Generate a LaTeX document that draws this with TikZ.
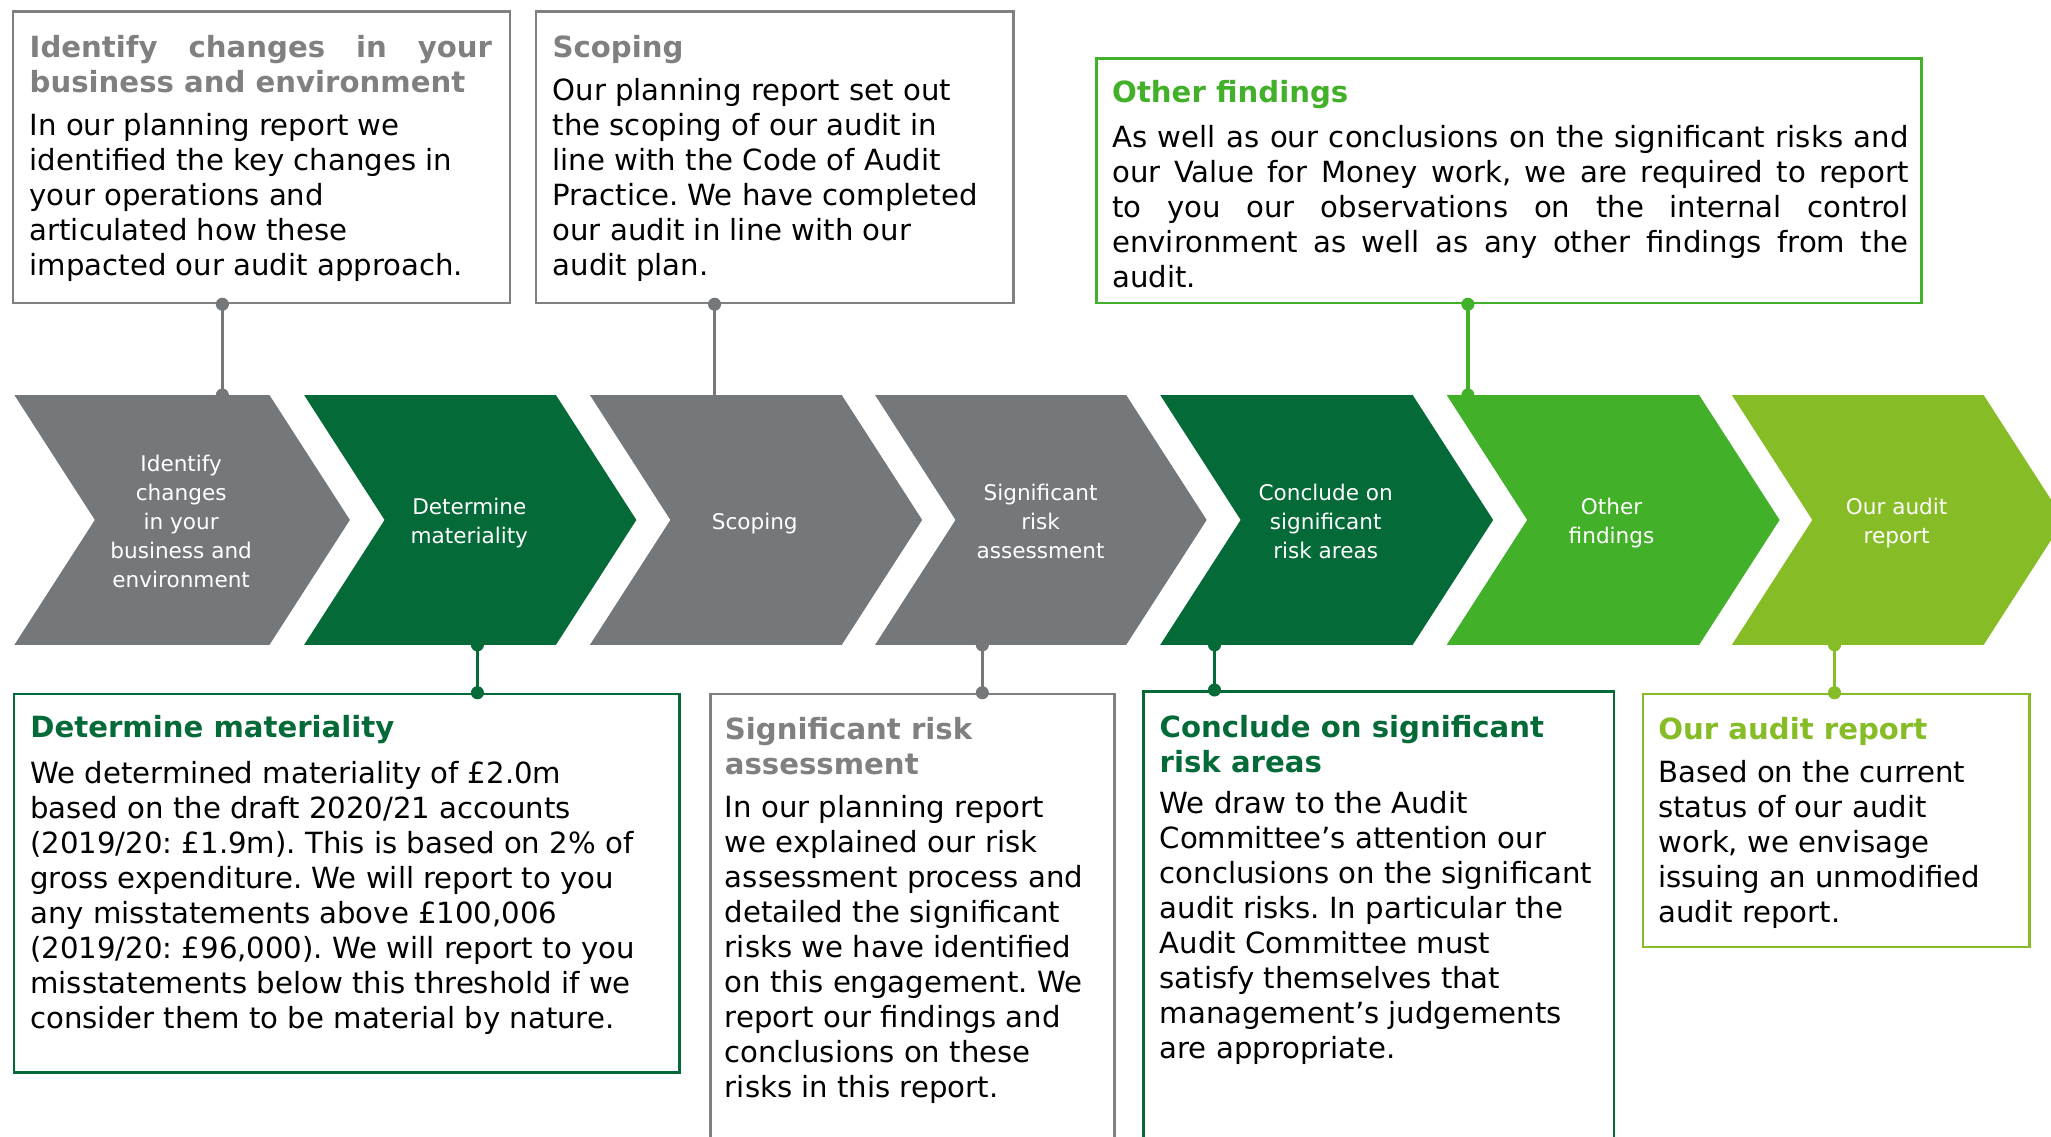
\documentclass[tikz,border=0pt]{standalone}
\usepackage{fontspec}
\setmainfont{DejaVu Sans}
\frenchspacing
\definecolor{cgray}{HTML}{75787B}
\definecolor{bgray}{HTML}{808080}
\definecolor{dgreen}{HTML}{046A38}
\definecolor{mgreen}{HTML}{43B02A}
\definecolor{lgreen}{HTML}{86BC25}
\newcommand\chevshape[3]{%
  \fill[#3] (#1,302) -- (#2,302) -- ({#2+61.5},397.5) -- (#2,493) -- (#1,493) -- ({#1+61.5},397.5) -- cycle;}
\tikzset{
  boxframe/.style={draw=#1, line width=2pt, inner sep=0pt, anchor=north west},
  ttl/.style={anchor=base west, inner sep=0pt, text=#1, font=\fontsize{22.3}{26.75}\selectfont\bfseries\frenchspacing},
  bodytxt/.style={anchor=base west, inner sep=0pt, text=black, font=\fontsize{22.3}{26.75}\selectfont\frenchspacing},
  chevtxt/.style={anchor=base, inner sep=0pt, text=white, font=\fontsize{16.5}{22.2}\selectfont},
  link/.style={draw=#1, line width=2.5pt},
}
\newcommand\lines[2]{\parbox[t]{#1}{\raggedright\frenchspacing #2}}
\newcommand\clines[1]{\parbox[t]{170pt}{\centering #1}}
\begin{document}
\begin{tikzpicture}[x=1pt,y=-1pt]
\useasboundingbox (0,0) rectangle (1568,869);
\clip (0,0) rectangle (1568,869);
\fill[white] (0,0) rectangle (1568,869);

% chevrons
\chevshape{11}{206}{cgray}
\chevshape{232.5}{425}{dgreen}
\chevshape{451}{643.5}{cgray}
\chevshape{669}{861}{cgray}
\chevshape{887}{1080}{dgreen}
\chevshape{1106}{1299}{mgreen}
\chevshape{1324}{1516.5}{lgreen}

\node[chevtxt] (s1) at (138.5,360.2) {\clines{Identify\\changes\\in your\\business and\\environment}};
\node[chevtxt] (s2) at (358.8,393.5) {\clines{Determine\\materiality}};
\node[chevtxt] (s3) at (577,404.6) {\clines{Scoping}};
\node[chevtxt] (s4) at (795.5,382.4) {\clines{Significant\\risk\\assessment}};
\node[chevtxt] (s5) at (1013.5,382.4) {\clines{Conclude on\\significant\\risk areas}};
\node[chevtxt] (s6) at (1232,393.5) {\clines{Other\\findings}};
\node[chevtxt] (s7) at (1450,393.5) {\clines{Our audit\\report}};

% anchor points on chevrons
\coordinate (k1) at (170,302);
\coordinate (k2) at (546.3,302);
\coordinate (k3) at (1122.2,302);
\coordinate (k4) at (365,493);
\coordinate (k5) at (751,493);
\coordinate (k6) at (928.5,493);
\coordinate (k7) at (1402.5,493);

% boxes
\node[boxframe=bgray, minimum width=379.8pt, minimum height=223pt] (B1) at (9,7.6) {};
\node[boxframe=bgray, minimum width=364.9pt, minimum height=222.6pt] (B2) at (408.8,8) {};
\node[boxframe=mgreen, minimum width=630.8pt, minimum height=186.8pt] (B3) at (837.1,43.8) {};
\node[boxframe=dgreen, minimum width=508.9pt, minimum height=289.2pt] (B4) at (9.8,529.6) {};
\node[boxframe=bgray, minimum width=309pt, minimum height=380pt] (B5) at (542,529.6) {};
\node[boxframe=dgreen, minimum width=359.4pt, minimum height=380pt] (B6) at (873.4,527.5) {};
\node[boxframe=lgreen, minimum width=295.5pt, minimum height=193.4pt] (B7) at (1255,529.6) {};

% connectors
\draw[link=cgray] (k1 |- B1.south) -- (k1);
\fill[cgray] (k1 |- B1.south) circle (5pt) (k1) circle (5pt);
\draw[link=cgray] (k2 |- B2.south) -- (k2);
\fill[cgray] (k2 |- B2.south) circle (5pt);
\draw[link=mgreen] (k3 |- B3.south) -- (k3);
\fill[mgreen] (k3 |- B3.south) circle (5pt) (k3) circle (5pt);
\draw[link=dgreen] (k4) -- (k4 |- B4.north);
\fill[dgreen] (k4) circle (5pt) (k4 |- B4.north) circle (5pt);
\draw[link=cgray] (k5) -- (k5 |- B5.north);
\fill[cgray] (k5) circle (5pt) (k5 |- B5.north) circle (5pt);
\draw[link=dgreen] (k6) -- (k6 |- B6.north);
\fill[dgreen] (k6) circle (5pt) (k6 |- B6.north) circle (5pt);
\draw[link=lgreen] (k7) -- (k7 |- B7.north);
\fill[lgreen] (k7) circle (5pt) (k7 |- B7.north) circle (5pt);

% texts top
\node[ttl=bgray] (T1) at (22.5,44) {\lines{360pt}{\makebox[353.5pt][s]{Identify changes in your}\\business and environment}};
\node[bodytxt] (D1) at (22.5,103.5) {\lines{360pt}{In our planning report we\\identified the key changes in\\your operations and\\articulated how these\\impacted our audit approach.}};

\node[ttl=bgray] (T2) at (422.3,44) {\lines{350pt}{Scoping}};
\node[bodytxt] (D2) at (422.3,76.8) {\lines{350pt}{Our planning report set out\\the scoping of our audit in\\line with the Code of Audit\\Practice. We have completed\\our audit in line with our\\audit plan.}};

\node[ttl=mgreen] (T3) at (850.1,78.4) {\lines{610pt}{Other findings}};
\node[bodytxt] (D3) at (850.1,112.5) {\lines{610pt}{\makebox[608.8pt][s]{As well as our conclusions on the significant risks and}\\\makebox[608.8pt][s]{our Value for Money work, we are required to report}\\\makebox[608.8pt][s]{to you our observations on the internal control}\\\makebox[608.8pt][s]{environment as well as any other findings from the}\\audit.}};

% texts bottom
\node[ttl=dgreen] (T4) at (23,564) {\lines{490pt}{Determine materiality}};
\node[bodytxt] (D4) at (23,598.8) {\lines{490pt}{We determined materiality of £2.0m\\based on the draft 2020/21 accounts\\(2019/20: £1.9m). This is based on 2\% of\\gross expenditure. We will report to you\\any misstatements above £100,006\\(2019/20: £96,000). We will report to you\\misstatements below this threshold if we\\consider them to be material by nature.}};

\node[ttl=bgray] (T5) at (554,565) {\lines{290pt}{Significant risk\\assessment}};
\node[bodytxt] (D5) at (554,624.8) {\lines{300pt}{In our planning report\\we explained our risk\\assessment process and\\detailed the significant\\risks we have identified\\on this engagement. We\\report our findings and\\conclusions on these\\risks in this report.}};

\node[ttl=dgreen] (T6) at (886.4,564) {\lines{340pt}{Conclude on significant\\risk areas}};
\node[bodytxt] (D6) at (886.4,622.3) {\lines{345pt}{We draw to the Audit\\Committee’s attention our\\conclusions on the significant\\audit risks. In particular the\\Audit Committee must\\satisfy themselves that\\management’s judgements\\are appropriate.}};

\node[ttl=lgreen] (T7) at (1267.6,565) {\lines{280pt}{Our audit report}};
\node[bodytxt] (D7) at (1267.6,598.1) {\lines{285pt}{Based on the current\\status of our audit\\work, we envisage\\issuing an unmodified\\audit report.}};
\end{tikzpicture}
\end{document}
